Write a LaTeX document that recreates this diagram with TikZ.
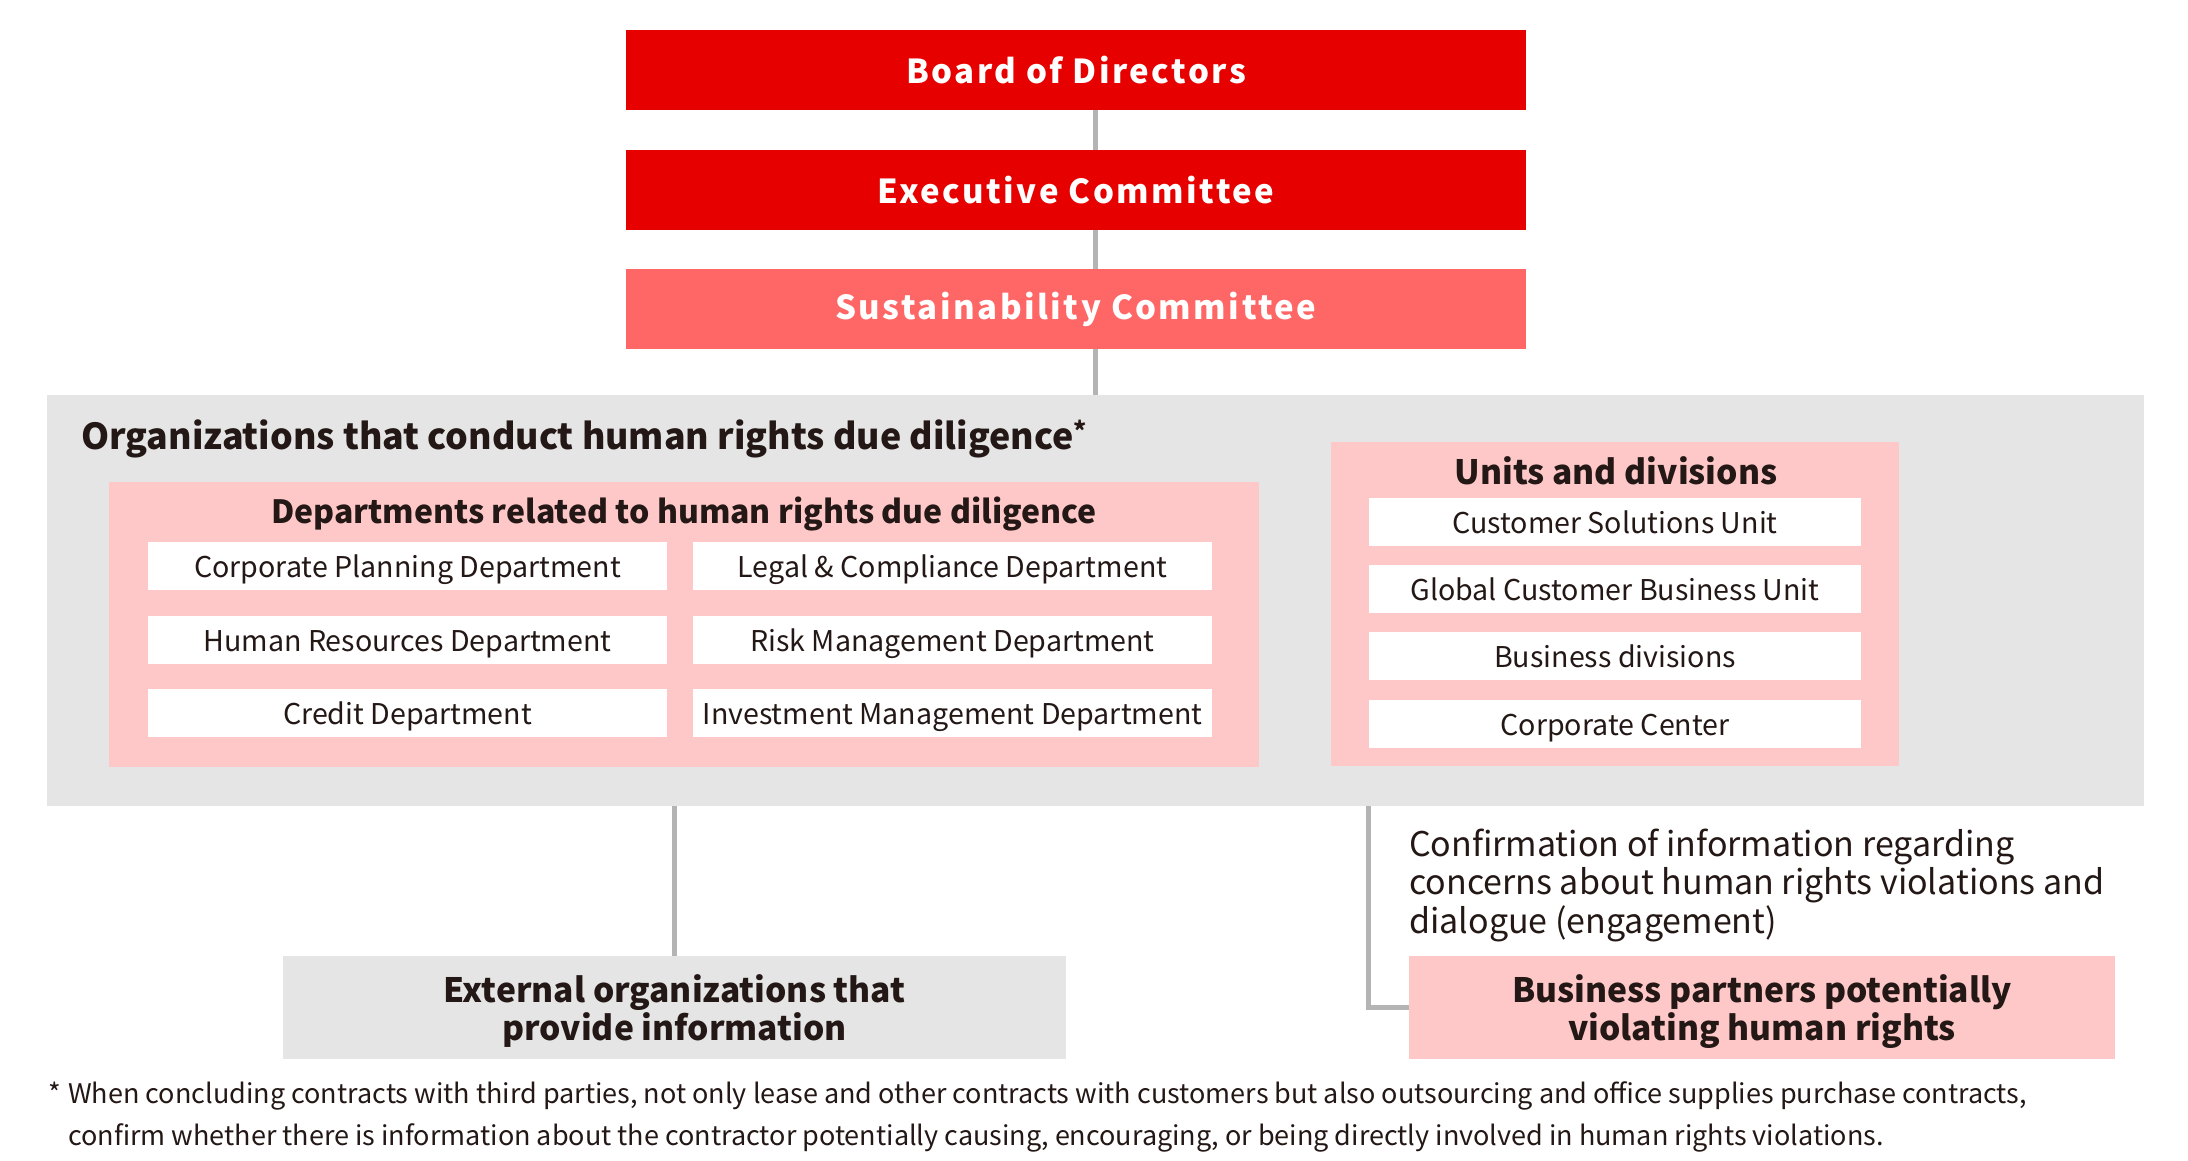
\documentclass[tikz,border=0pt]{standalone}
\usepackage{fontspec}
\setmainfont{Noto Sans CJK JP}
\newfontfamily\spacedfont[LetterSpace=7.5]{Noto Sans CJK JP}
\usepackage{tikz}

\definecolor{boardred}{HTML}{E60000}
\definecolor{sustred}{HTML}{FF6666}
\definecolor{rosepink}{HTML}{FFC8C8}
\definecolor{panelgray}{HTML}{E5E5E5}
\definecolor{linkgray}{HTML}{B4B4B4}
\definecolor{inkdark}{HTML}{231815}

\tikzset{
  topbox/.style={fill=#1, text=white, inner sep=0, minimum width=900, minimum height=80,
    font=\spacedfont\bfseries\fontsize{33}{38}\selectfont},
  panel/.style={fill=#1, inner sep=0},
  unitbox/.style={fill=white, text=inkdark, inner sep=0, minimum height=48,
    text height=26pt, text depth=3pt, font=\fontsize{28.6}{32}\selectfont},
  headtext/.style={text=inkdark, inner sep=0, font=\bfseries\fontsize{32}{38}\selectfont},
  endbox/.style={fill=#1, text=inkdark, inner sep=0, minimum width=783, minimum height=103,
    align=center, text depth=0pt, font=\bfseries\fontsize{33.6}{38}\selectfont},
  link/.style={draw=linkgray, line width=5}
}

\begin{document}
\begin{tikzpicture}[x=1pt,y=-1pt]
\useasboundingbox (0,0) rectangle (2188,1160);

\node[topbox=boardred] (board) at (1076,70) {Board of Directors};
\node[topbox=boardred] (exec) at (1076,190) {Executive Committee};
\node[topbox=sustred] (sust) at (1076,309) {Sustainability Committee};

\node[panel=panelgray, minimum width=2097, minimum height=411] (org) at (1095.5,600.5) {};
\node[headtext, anchor=west, font=\bfseries\fontsize{35.8}{40}\selectfont] (orgtitle) at (81,439)
  {Organizations that conduct human rights due diligence\textsuperscript{*}};

\node[panel=rosepink, minimum width=1150, minimum height=285] (dept) at (684,624.5) {};
\node[headtext] (depttitle) at (684,514) {Departments related to human rights due diligence};
\node[unitbox, minimum width=519] (planning) at (407.5,566) {Corporate Planning Department};
\node[unitbox, minimum width=519] (legal) at (952.5,566) {Legal \& Compliance Department};
\node[unitbox, minimum width=519] (hr) at (407.5,640) {Human Resources Department};
\node[unitbox, minimum width=519] (risk) at (952.5,640) {Risk Management Department};
\node[unitbox, minimum width=519] (credit) at (407.5,713) {Credit Department};
\node[unitbox, minimum width=519] (invest) at (952.5,713) {Investment Management Department};

\node[panel=rosepink, minimum width=568, minimum height=324] (units) at (1615,604) {};
\node[headtext, font=\bfseries\fontsize{33.6}{38}\selectfont] (unitstitle) at (1616,471) {Units and divisions};
\node[unitbox, minimum width=492] (solutions) at (1615,522) {Customer Solutions Unit};
\node[unitbox, minimum width=492] (global) at (1615,589) {Global Customer Business Unit};
\node[unitbox, minimum width=492] (divisions) at (1615,656) {Business divisions};
\node[unitbox, minimum width=492] (center) at (1615,724) {Corporate Center};

\node[endbox=panelgray] (external) at (674.5,1007.5) {External organizations that\\provide information};
\node[endbox=rosepink, minimum width=706] (partners) at (1762,1007.5) {Business partners potentially\\violating human rights};

\node[text=inkdark, anchor=west, align=left, inner sep=0, font=\fontsize{34}{38.5}\selectfont] (confirm) at (1409,885)
  {Confirmation of information regarding\\concerns about human rights violations and\\dialogue (engagement)};

\draw[link] (board.south -| org.north) -- (exec.north -| org.north);
\draw[link] (exec.south -| org.north) -- (sust.north -| org.north);
\draw[link] (sust.south -| org.north) -- (org.north);
\draw[link] (org.south -| external.north) -- (external.north);
\draw[link] (org.south -| solutions.west) |- (partners.west);

\node[text=inkdark, anchor=west, align=left, inner sep=0, font=\fontsize{27}{42}\selectfont] (note) at (48,1117)
  {\makebox[20pt][l]{*}When concluding contracts with third parties, not only lease and other contracts with customers but also outsourcing and office supplies purchase contracts,\\
   \hspace*{20pt}confirm whether there is information about the contractor potentially causing, encouraging, or being directly involved in human rights violations.};
\end{tikzpicture}
\end{document}
